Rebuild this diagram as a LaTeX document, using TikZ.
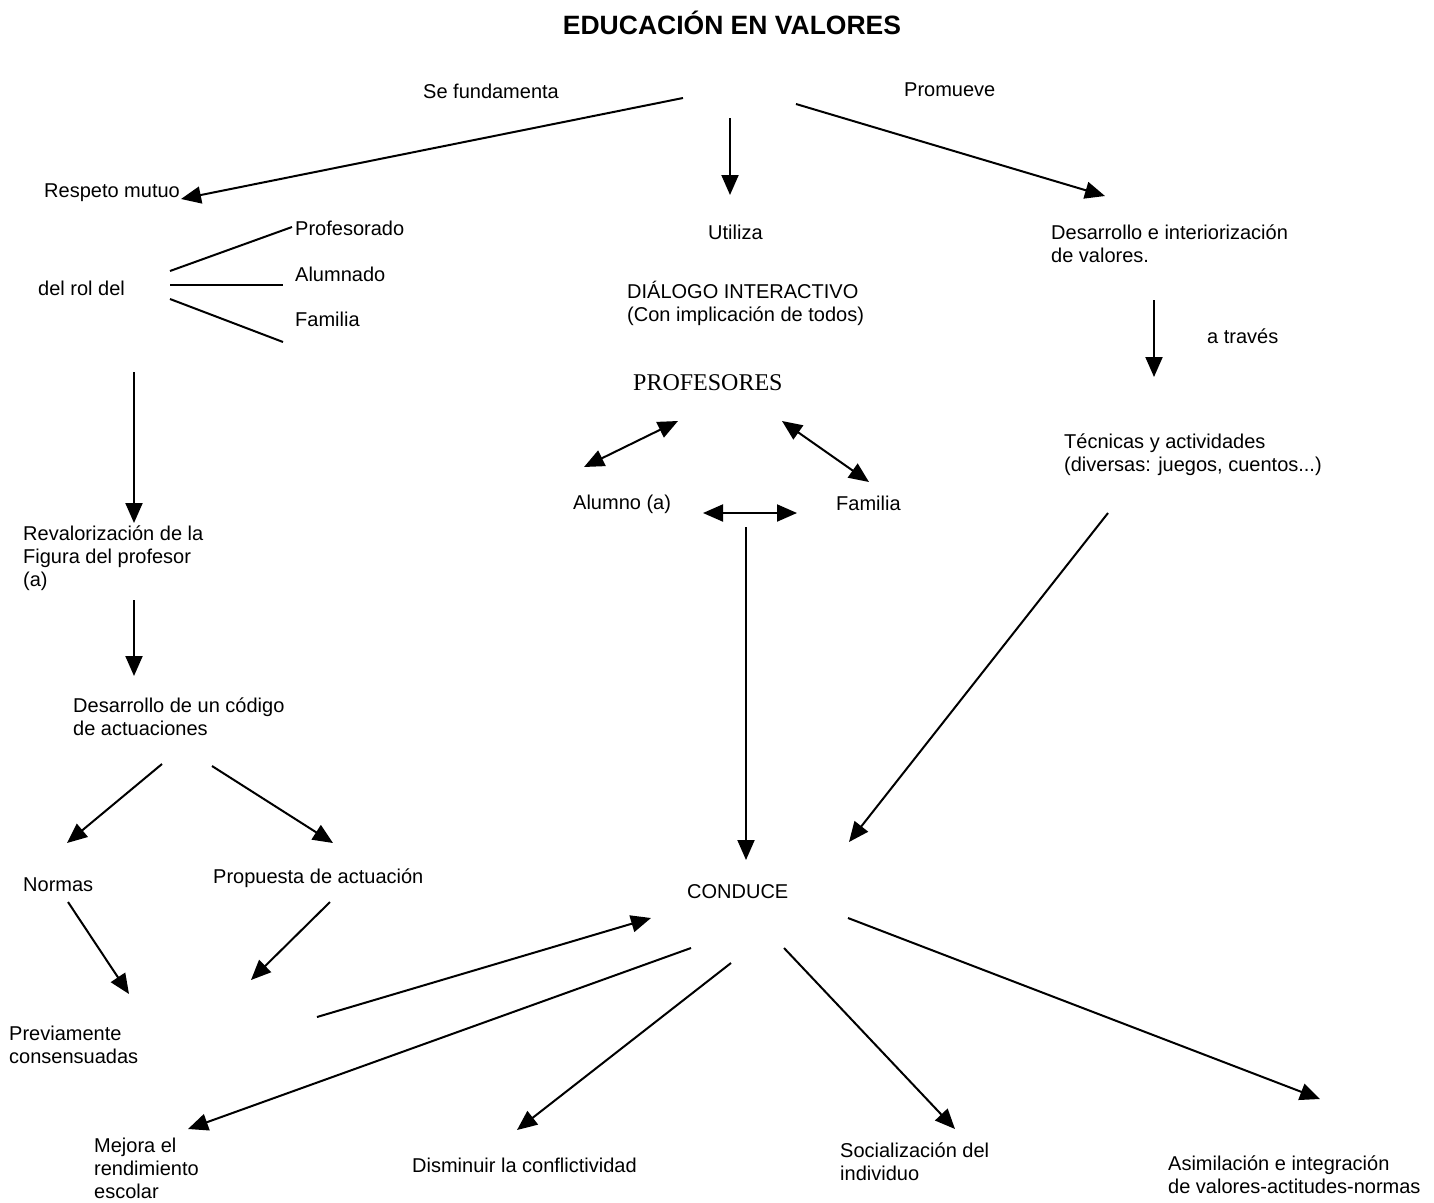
\documentclass[tikz,border=0pt]{standalone}
\usepackage{fontspec}
\setmainfont{Liberation Sans}
\newfontfamily\timesfont{Liberation Serif}
\usetikzlibrary{arrows.meta}

\begin{document}
\begin{tikzpicture}[x=1pt,y=-1pt,
        texto/.style={anchor=west,inner sep=0pt,align=left,font=\fontsize{20}{23}\selectfont},
        flecha/.style={line width=2pt,-{Triangle[length=20pt,width=17pt]}},
        doble/.style={line width=2pt,{Triangle[length=20pt,width=17pt]}-{Triangle[length=20pt,width=17pt]}},
        raya/.style={line width=2pt}]
        \useasboundingbox (0,0) rectangle (1434,1202);

        \node[texto,anchor=base,font=\bfseries\fontsize{26.5}{30}\selectfont] at (732,34) (titulo) {EDUCACIÓN EN VALORES};
        \node[texto] at (423,91) (fund) {Se fundamenta};
        \node[texto] at (904,90) (prom) {Promueve};
        \node[texto] at (44,193) (resp) {Respeto mutuo};
        \node[texto] at (708,232) (util) {Utiliza};
        \node[texto] at (1051,244) (desint) {Desarrollo e interiorización\\de valores.};
        \node[texto] at (295,228) (profdo) {Profesorado};
        \node[texto] at (295,274) (alumdo) {Alumnado};
        \node[texto] at (295,319) (famdo) {Familia};
        \node[texto] at (38,288) (rol) {del rol del};
        \node[texto] at (627,303) (dial) {DIÁLOGO INTERACTIVO\\(Con implicación de todos)};
        \node[texto] at (1207,336) (atrav) {a través};
        \node[texto,font=\timesfont\fontsize{24}{28}\selectfont] at (633,383) (prof) {PROFESORES};
        \node[texto] at (1064,455) (tec) {Técnicas y actividades\\(diversas: juegos, cuentos...)};
        \node[texto] at (573,504) (alum) {Alumno (a)};
        \node[texto] at (836,503) (fam) {Familia};
        \node[texto] at (23,558) (reval) {Revalorización de la\\Figura del profesor\\(a)};
        \node[texto] at (73,717) (codigo) {Desarrollo de un código\\de actuaciones};
        \node[texto] at (23,885) (normas) {Normas};
        \node[texto] at (213,878) (propu) {Propuesta de actuación};
        \node[texto] at (687,892) (conduce) {CONDUCE};
        \node[texto] at (9,1045) (previa) {Previamente\\consensuadas};
        \node[texto] at (94,1168) (mejora) {Mejora el\\rendimiento\\escolar};
        \node[texto] at (412,1165) (dismi) {Disminuir la conflictividad};
        \node[texto] at (840,1162) (social) {Socialización del\\individuo};
        \node[texto] at (1168,1175) (asim) {Asimilación e integración\\de valores-actitudes-normas};

        \coordinate (s1) at (683,98);   \coordinate (e1) at (181,199);
        \coordinate (s2) at (730,118);  \coordinate (e2) at (730,195);
        \coordinate (s3) at (796,104);  \coordinate (e3) at (1105,196);
        \coordinate (r0) at (170,271);  \coordinate (r1) at (292,227);
        \coordinate (r2) at (170,285);  \coordinate (r3) at (283,285);
        \coordinate (r4) at (170,299);  \coordinate (r5) at (283,342);
        \coordinate (s4) at (134,372);  \coordinate (e4) at (134,523);
        \coordinate (s5) at (134,600);  \coordinate (e5) at (134,676);
        \coordinate (s6) at (162,764);  \coordinate (e6) at (67,843);
        \coordinate (s7) at (212,766);  \coordinate (e7) at (333,843);
        \coordinate (s8) at (68,902);   \coordinate (e8) at (129,994);
        \coordinate (s9) at (330,902);  \coordinate (e9) at (251,980);
        \coordinate (s10) at (317,1017); \coordinate (e10) at (651,918);
        \coordinate (s11) at (691,948); \coordinate (e11) at (188,1129);
        \coordinate (s12) at (731,963); \coordinate (e12) at (517,1130);
        \coordinate (s13) at (784,948); \coordinate (e13) at (955,1129);
        \coordinate (s14) at (848,918); \coordinate (e14) at (1320,1099);
        \coordinate (s15) at (746,527); \coordinate (e15) at (746,860);
        \coordinate (s16) at (1108,513); \coordinate (e16) at (849,842);
        \coordinate (s17) at (1154,300); \coordinate (e17) at (1154,377);
        \coordinate (p1) at (584,467);  \coordinate (p2) at (678,421);
        \coordinate (p3) at (782,421);  \coordinate (p4) at (869,482);
        \coordinate (p5) at (703,513);  \coordinate (p6) at (797,513);

        \draw[flecha] (s1) -- (e1);
        \draw[flecha] (s2) -- (e2);
        \draw[flecha] (s3) -- (e3);
        \draw[raya] (r0) -- (r1);
        \draw[raya] (r2) -- (r3);
        \draw[raya] (r4) -- (r5);
        \draw[flecha] (s4) -- (e4);
        \draw[flecha] (s5) -- (e5);
        \draw[flecha] (s6) -- (e6);
        \draw[flecha] (s7) -- (e7);
        \draw[flecha] (s8) -- (e8);
        \draw[flecha] (s9) -- (e9);
        \draw[flecha] (s10) -- (e10);
        \draw[flecha] (s11) -- (e11);
        \draw[flecha] (s12) -- (e12);
        \draw[flecha] (s13) -- (e13);
        \draw[flecha] (s14) -- (e14);
        \draw[flecha] (s15) -- (e15);
        \draw[flecha] (s16) -- (e16);
        \draw[flecha] (s17) -- (e17);
        \draw[doble] (p1) -- (p2);
        \draw[doble] (p3) -- (p4);
        \draw[doble] (p5) -- (p6);
    \end{tikzpicture}
\end{document}
